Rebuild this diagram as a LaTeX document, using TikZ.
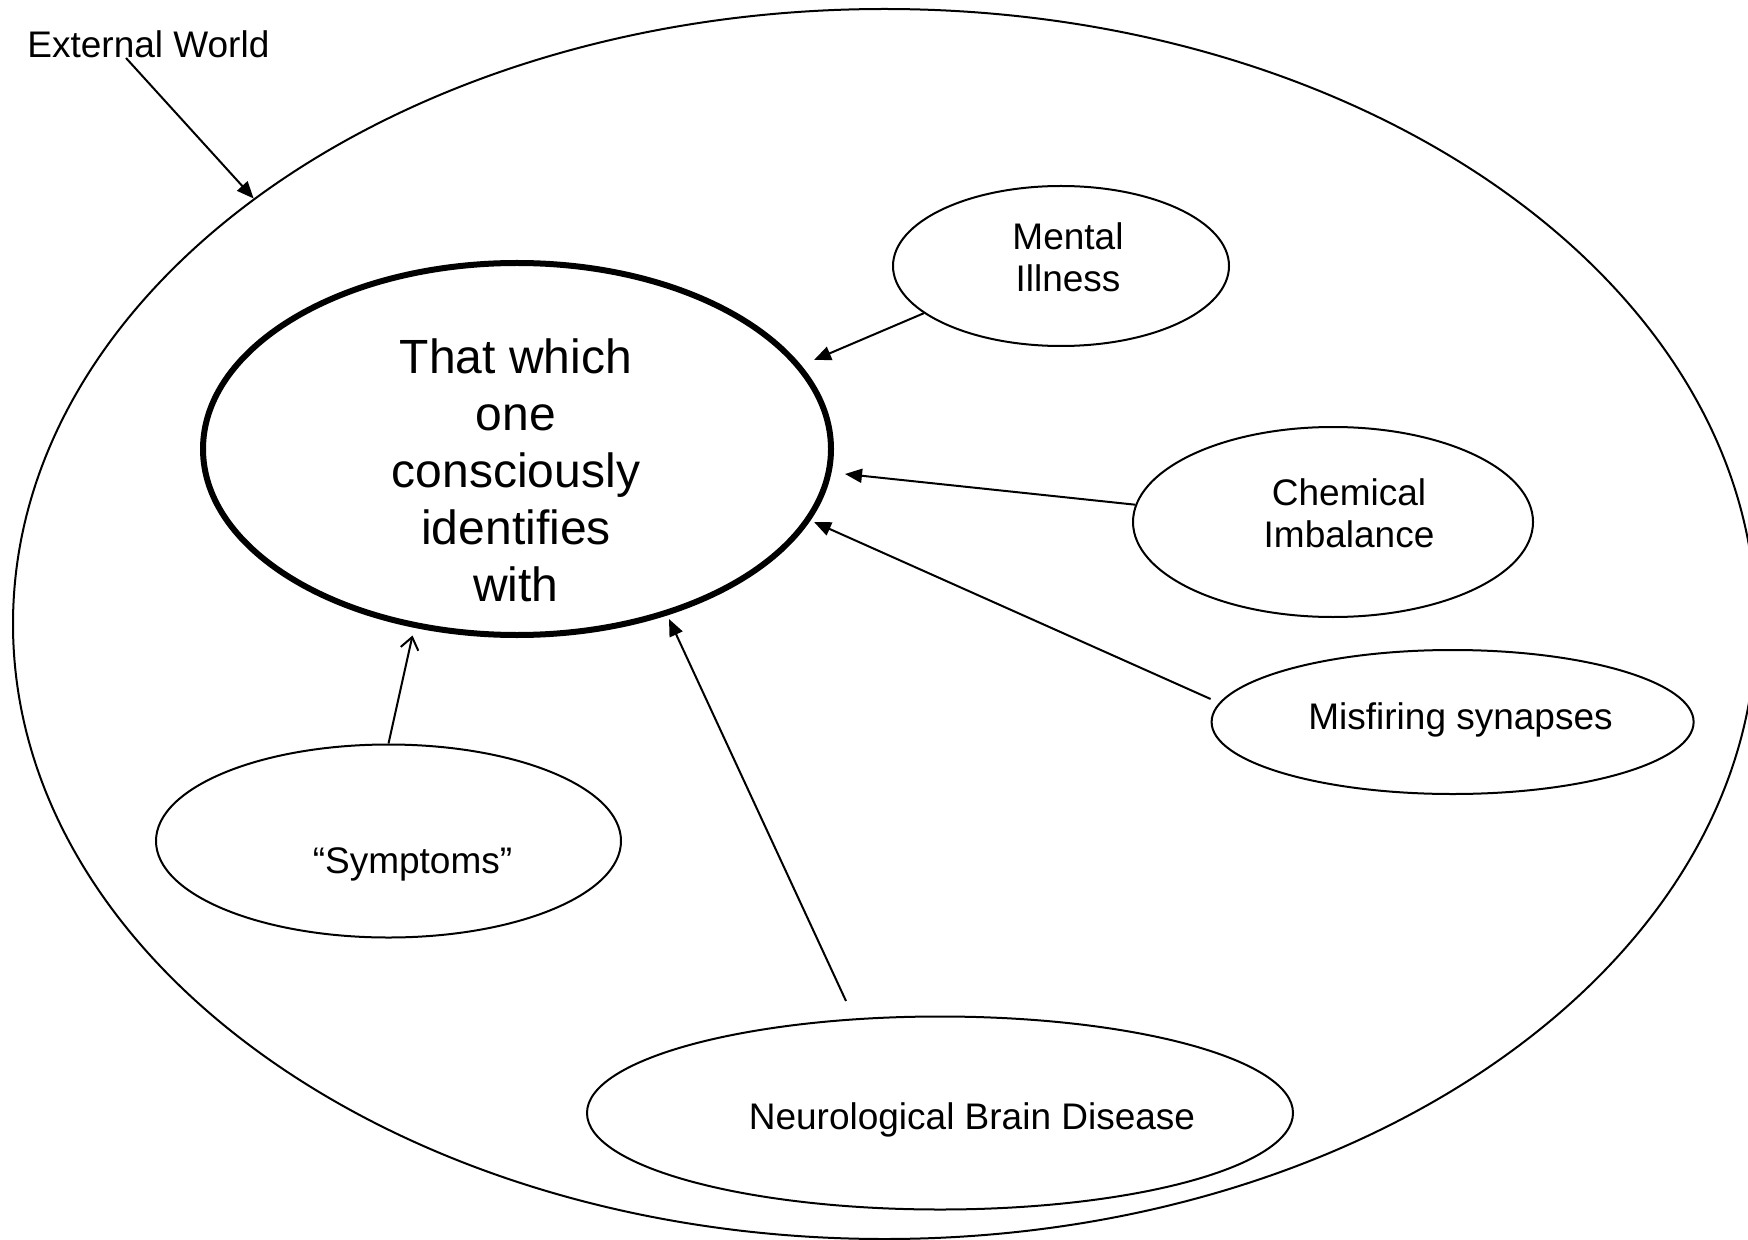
\documentclass[tikz,border=0pt]{standalone}
\usepackage{fontspec}
\setmainfont{Liberation Sans}
\usetikzlibrary{shapes.geometric,arrows.meta}

\tikzset{
  bubble/.style={ellipse, draw, line width=1pt, inner sep=0pt},
  selfbubble/.style={ellipse, draw, line width=3pt, inner sep=0pt},
  lbl/.style={align=center, inner sep=0pt, font=\fontsize{18.5pt}{21pt}\selectfont},
  biglbl/.style={align=center, inner sep=0pt, font=\fontsize{24pt}{28.5pt}\selectfont},
  solidarrow/.style={line width=1pt, -{Triangle[length=8.5pt,width=7pt]}},
  openarrow/.style={line width=1pt, -{Straight Barb[length=6pt,width=9pt]}}
}

\begin{document}
\begin{tikzpicture}[x=0.5pt,y=-0.5pt]
  \useasboundingbox (0,0) rectangle (1748,1240);

  % the surrounding world
  \node[bubble, minimum width=871.5pt, minimum height=615pt] (world) at (884.5,624) {};

  % central self
  \node[selfbubble, minimum width=314pt, minimum height=186pt] (self) at (517,449) {};
  \node[biglbl] (selftxt) at (516,470.5) {That which\\one\\consciously\\identifies\\with};

  % surrounding explanations
  \node[bubble, minimum width=168pt, minimum height=80pt] (mi) at (1061,266) {};
  \node[lbl] (mitxt) at (1068,257.5) {Mental\\Illness};

  \node[bubble, minimum width=200pt, minimum height=95pt] (ci) at (1333,522) {};
  \node[lbl] (citxt) at (1349,513) {Chemical\\Imbalance};

  \node[bubble, minimum width=241pt, minimum height=72pt] (ms) at (1452.6,722) {};
  \node[lbl] (mstxt) at (1460.5,719.5) {Misfiring synapses};

  \node[bubble, minimum width=232.5pt, minimum height=96.5pt] (sy) at (388.5,841) {};
  \node[lbl] (sytxt) at (412.5,864.5) {“Symptoms”};

  \node[bubble, minimum width=353pt, minimum height=96.5pt] (nb) at (940,1113) {};
  \node[lbl] (nbtxt) at (972,1119.5) {Neurological Brain Disease};

  % caption of the outer ellipse
  \node[lbl, anchor=west] (ew) at (27,44.6) {External World};

  % arrow ends
  \coordinate (ewtail) at (126,58);
  \coordinate (nbtail) at (846,1001);
  \coordinate (tmi) at (814,360);
  \coordinate (tci) at (845,474);
  \coordinate (tms) at (814,522);
  \coordinate (tsy) at (412.5,635.5);
  \coordinate (tnb) at (669,619);

  % connectors
  \draw[solidarrow] (ewtail) -- (world.146.3);
  \draw[solidarrow] (mi.199.4) -- (tmi);
  \draw[solidarrow] (ci.175.1) -- (tci);
  \draw[solidarrow] ([yshift=11.5pt]ms.west) -- (tms);
  \draw[openarrow] (sy.north) -- (tsy);
  \draw[solidarrow] (nbtail) -- (tnb);
\end{tikzpicture}
\end{document}
